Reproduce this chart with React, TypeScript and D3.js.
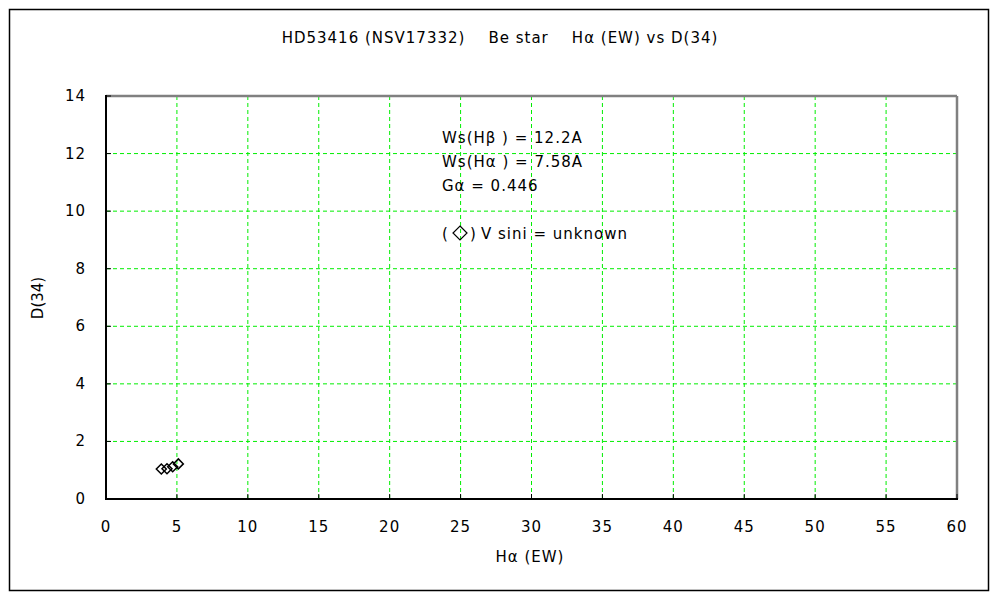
import React from "react";
import * as d3 from "d3";

const haEW = [3.9, 4.3, 4.7, 5.1];
const d34 = [1.04, 1.05, 1.12, 1.22];
const xTicks = [0, 5, 10, 15, 20, 25, 30, 35, 40, 45, 50, 55, 60];
const yTicks = [0, 2, 4, 6, 8, 10, 12, 14];
const title = "HD53416 (NSV17332)\u00A0\u00A0\u00A0 Be star\u00A0\u00A0\u00A0 H\u03B1 (EW) vs D(34)";
const notes = ["Ws(H\u03B2 ) = 12.2A", "Ws(H\u03B1 ) = 7.58A", "G\u03B1 = 0.446"];
const vsiniNote = "V sini = unknown";

export default function App() {
  const L = 106, R = 957, T = 96, B = 499;
  const x = d3.scaleLinear().domain([0, 60]).range([L, R]);
  const y = d3.scaleLinear().domain([0, 14]).range([B, T]);
  const font = "'DejaVu Sans', 'Liberation Sans', sans-serif";
  const fs = 15;
  const diamond = (cx: number, cy: number, s = 5) =>
    `M${cx},${cy - s}L${cx + s},${cy}L${cx},${cy + s}L${cx - s},${cy}Z`;
  return (
    <svg width={1000} height={600} style={{ position: "absolute", left: 0, top: 0, background: "#fff" }}
      fontFamily={font} fontSize={fs}>
      <rect x={9.5} y={9.5} width={979} height={581} fill="#fff" stroke="#000" strokeWidth={1.5} />
      <text x={500} y={43} textAnchor="middle" fill="#000" letterSpacing={1}>{title}</text>
      {xTicks.slice(1, -1).map((t) => (
        <line key={"gx" + t} x1={x(t)} x2={x(t)} y1={T} y2={B} stroke="#00ee00" strokeWidth={1} strokeDasharray="4,3" />
      ))}
      {yTicks.slice(1, -1).map((t) => (
        <line key={"gy" + t} x1={L} x2={R} y1={y(t)} y2={y(t)} stroke="#00ee00" strokeWidth={1} strokeDasharray="4,3" />
      ))}
      <line x1={L} x2={R} y1={T} y2={T} stroke="#808080" strokeWidth={2.5} />
      <line x1={R} x2={R} y1={T} y2={B} stroke="#808080" strokeWidth={2.5} />
      <line x1={L} x2={L} y1={T - 1} y2={B + 1} stroke="#000" strokeWidth={2} />
      <line x1={L - 1} x2={R + 1} y1={B} y2={B} stroke="#000" strokeWidth={2} />
      {xTicks.map((t) => (
        <g key={"xt" + t}>
          <line x1={x(t)} x2={x(t)} y1={B} y2={B - 5} stroke="#000" strokeWidth={1} />
          <text x={x(t)} y={532} textAnchor="middle" fill="#000" letterSpacing={1}>{t}</text>
        </g>
      ))}
      {yTicks.map((t) => (
        <g key={"yt" + t}>
          <line x1={L} x2={L + 5} y1={y(t)} y2={y(t)} stroke="#000" strokeWidth={1} />
          <text x={86} y={y(t) + 5} textAnchor="end" fill="#000" letterSpacing={1}>{t}</text>
        </g>
      ))}
      <text x={530} y={562} textAnchor="middle" fill="#000" letterSpacing={1}>H{"\u03B1"} (EW)</text>
      <text transform={`translate(43,298) rotate(-90)`} textAnchor="middle" fill="#000">D(34)</text>
      {notes.map((n, i) => (
        <text key={"n" + i} x={442} y={143 + i * 24} fill="#000" letterSpacing={1}>{n}</text>
      ))}
      <text x={442} y={239} fill="#000">(</text>
      <path d={diamond(460, 233, 7)} fill="none" stroke="#000" strokeWidth={1.2} />
      <text x={470} y={239} fill="#000">)</text>
      <text x={481} y={239} fill="#000" letterSpacing={1}>{vsiniNote}</text>
      {haEW.map((v, i) => (
        <path key={"p" + i} d={diamond(x(v), y(d34[i]))} fill="none" stroke="#000" strokeWidth={1.5} />
      ))}
    </svg>
  );
}
